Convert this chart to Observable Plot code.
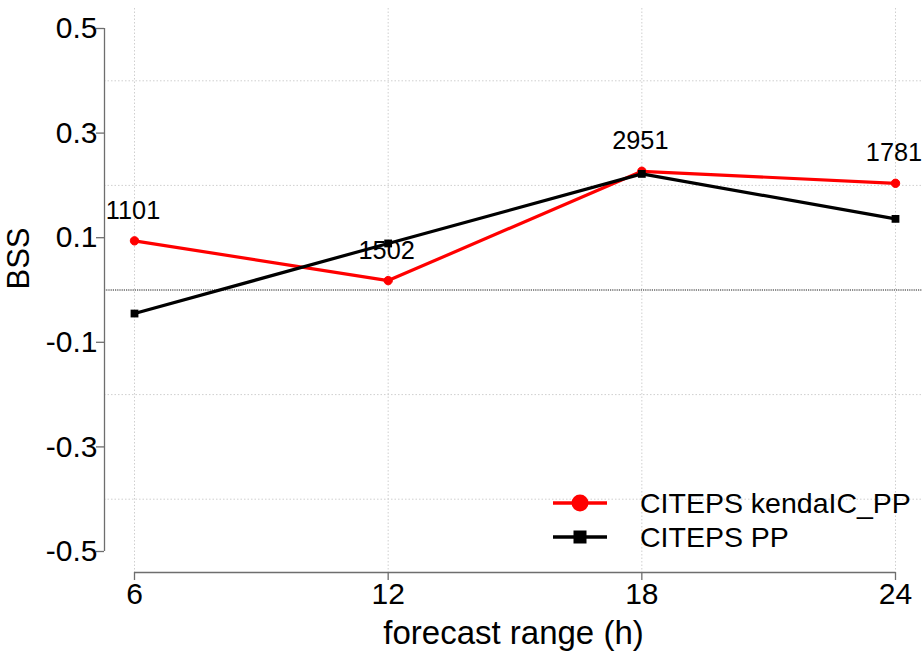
<!DOCTYPE html>
<html>
<head>
<meta charset="utf-8">
<script src="https://cdn.jsdelivr.net/npm/d3@7"></script>
<script src="https://cdn.jsdelivr.net/npm/@observablehq/plot@0.6"></script>
<style>
  html, body { margin: 0; padding: 0; background: #fff; }
  #chart { position: relative; width: 922px; height: 663px; font-family: "Liberation Sans", Arial, Helvetica, sans-serif; }
  #legend { position: absolute; left: 0; top: 0; pointer-events: none; }
</style>
</head>
<body>
<div id="chart"></div>
<script>
// Forecast lead times (hours)
const hours = [6, 12, 18, 24];
// Brier skill score per lead time
const kendaIC = [0.094, 0.018, 0.227, 0.204];
const pp = [-0.045, 0.089, 0.222, 0.136];
// Number of cases at each lead time
const counts = ["1101", "1502", "2951", "1781"];

const seriesNames = ["CITEPS kendaIC_PP", "CITEPS PP"];
const seriesColors = ["#ff0000", "#000000"];

const xTicks = [6, 12, 18, 24];
const yTicks = [-0.5, -0.3, -0.1, 0.1, 0.3, 0.5];
const yTickLabels = ["-0.5", "-0.3", "-0.1", "0.1", "0.3", "0.5"];
const yGrid = [-0.4, -0.2, 0.2, 0.4];

const redData = hours.map((h, i) => ({h, v: kendaIC[i], n: counts[i]}));
const blackData = hours.map((h, i) => ({h, v: pp[i]}));

const font = '"Liberation Sans", Arial, Helvetica, sans-serif';
const axisGray = "#6e6e6e";

const plot = Plot.plot({
  width: 922,
  height: 663,
  marginLeft: 104,
  marginRight: 0,
  marginTop: 8,
  marginBottom: 91,
  insetLeft: 30,
  insetRight: 27,
  insetTop: 20,
  insetBottom: 21,
  style: {fontFamily: font, background: "#fff", color: "#000", overflow: "visible"},
  x: {domain: [6, 24]},
  y: {domain: [-0.5, 0.5]},
  marks: [
    // grid
    Plot.ruleX(xTicks, {stroke: "#cfcfcf", strokeDasharray: "1.5,2", strokeWidth: 1}),
    Plot.ruleY(yGrid, {stroke: "#cfcfcf", strokeDasharray: "1.5,2", strokeWidth: 1}),
    Plot.ruleY([0], {stroke: "#000", strokeDasharray: "1.2,1", strokeWidth: 0.9}),
    // axis lines
    Plot.ruleX([xTicks[0]], {y1: yTicks[0], y2: yTicks[yTicks.length - 1], dx: -30, stroke: axisGray, strokeWidth: 1.3}),
    Plot.ruleY([yTicks[0]], {x1: xTicks[0], x2: xTicks[xTicks.length - 1], dy: 21, stroke: axisGray, strokeWidth: 1.3}),
    // axes
    Plot.axisY(yTicks, {
      tickSize: 8, tickPadding: -1, fontSize: 30, stroke: axisGray, strokeWidth: 1.3,
      tickFormat: (d, i) => yTickLabels[i], label: null
    }),
    Plot.axisX(xTicks, {
      tickSize: 8, tickPadding: 2, fontSize: 30, stroke: axisGray, strokeWidth: 1.3,
      tickFormat: d => String(d), label: null
    }),
    Plot.text(["BSS"], {frameAnchor: "left", rotate: -90, dx: -85, dy: -1, fontSize: 31, fill: "#000"}),
    Plot.text(["forecast range (h)"], {frameAnchor: "bottom", dy: 71, fontSize: 33, fill: "#000"}),
    // case counts above the red series
    Plot.text(redData, {x: "h", y: "v", text: "n", dx: -1.5, dy: -30, fontSize: 25.3, fill: "#000"}),
    // series
    Plot.line(redData, {x: "h", y: "v", stroke: seriesColors[0], strokeWidth: 3.2}),
    Plot.dot(redData, {x: "h", y: "v", r: 4.2, fill: seriesColors[0], stroke: seriesColors[0], strokeWidth: 1}),
    Plot.line(blackData, {x: "h", y: "v", stroke: seriesColors[1], strokeWidth: 3.2}),
    Plot.dot(blackData, {x: "h", y: "v", symbol: "square", r: 4.4, fill: seriesColors[1]})
  ]
});

const chart = document.getElementById("chart");
chart.appendChild(plot);

// legend inside the lower-right corner of the panel
const legend = d3.select(chart).append("svg")
  .attr("id", "legend")
  .attr("width", 922).attr("height", 663);
const rows = legend.selectAll("g").data(seriesNames).join("g")
  .attr("transform", (d, i) => `translate(553, ${503 + i * 34})`);
rows.append("line")
  .attr("x1", 0).attr("x2", 54).attr("y1", 0).attr("y2", 0)
  .attr("stroke", (d, i) => seriesColors[i]).attr("stroke-width", 3.4);
rows.filter((d, i) => i === 0).append("circle")
  .attr("cx", 27).attr("cy", 0).attr("r", 8.5).attr("fill", seriesColors[0]);
rows.filter((d, i) => i === 1).append("rect")
  .attr("x", 27 - 6.5).attr("y", -6.5).attr("width", 13).attr("height", 13).attr("fill", seriesColors[1]);
rows.append("text")
  .attr("x", 87).attr("y", 10)
  .attr("font-family", font).attr("font-size", 28.5).attr("fill", "#000")
  .text(d => d);
</script>
</body>
</html>
